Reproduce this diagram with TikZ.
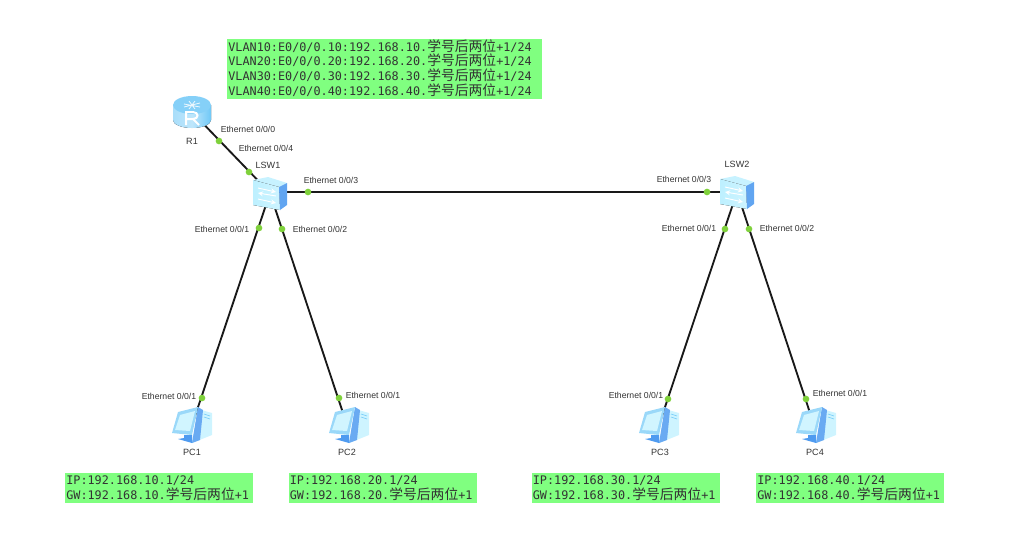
\documentclass[tikz,border=0pt]{standalone}
\usepackage{fontspec}
\setmainfont{Liberation Sans}
\setmonofont{DejaVu Sans Mono}
\newfontfamily\cjkf{Noto Sans CJK SC}[Scale=1.17]
\usetikzlibrary{calc}
\definecolor{boxgreen}{HTML}{80FF80}
\definecolor{portgreen}{HTML}{7FD13B}
\definecolor{lblgray}{HTML}{333333}
\definecolor{iconA}{HTML}{BDF0FF}
\definecolor{iconB}{HTML}{6FC8F7}
\definecolor{iconC}{HTML}{4F9BF0}
\newcommand{\xh}{{\cjkf 学号后两位}}
\tikzset{
 x=0.75pt,y=-0.75pt,
 link/.style={draw=black!90,line width=1.4pt},
 portdot/.style={circle,fill=portgreen,draw=none,inner sep=0pt,minimum size=5pt},
 portlabel/.style={font=\fontsize{6.5}{8}\selectfont,text=lblgray,inner sep=0pt},
 devlabel/.style={font=\fontsize{6.8}{8}\selectfont,text=lblgray,inner sep=0pt},
 notebox/.style={fill=boxgreen,draw=none,align=left,inner xsep=1pt,inner ysep=0pt,text=black!80,
   font=\ttfamily\fontsize{8.85}{11}\selectfont},
 devnode/.style={inner sep=0pt,minimum size=1pt,draw=none},
}
\newcommand{\routericon}[1]{%
 \begin{scope}[shift={(#1)}]
  \fill[left color=iconB!60!white,right color=iconB,middle color=iconB!45!white]
    (-19,-7) -- (-19,8) arc[x radius=19,y radius=8,start angle=180,end angle=0] -- (19,-7) -- cycle;
  \fill[iconB!85!white] (0,-7) ellipse[x radius=19,y radius=9];
  \draw[white,line width=.6pt,opacity=.85] (-8,-8)--(8,-5) (-8,-5)--(8,-9) (-3,-11)--(3,-3) (3,-11)--(-3,-3);
  \draw[white,line width=1.5pt] (-6,13) -- (-6,0) -- (1,0) .. controls (7,0) and (7,7) .. (1,7) -- (-6,7) (1,7) -- (7,13);
 \end{scope}}
\newcommand{\switchicon}[1]{%
 \begin{scope}[shift={(#1)}]
  \fill[iconA!85!white] (-17,-13) -- (-2,-16) -- (17,-10) -- (9,-6) -- cycle;
  \fill[left color=iconA,right color=iconA!75!white] (-17,-13) -- (9,-6) -- (10,17) -- (-17,12) -- cycle;
  \fill[iconC!90!white] (9,-6) -- (17,-10) -- (17,12) -- (10,17) -- cycle;
  \draw[white,line width=.7pt,->,>=stealth] (-12,-5) -- (6,-1);
  \draw[white,line width=.7pt,<-,>=stealth] (-12,0) -- (6,3);
  \draw[white,line width=.7pt,->,>=stealth] (-12,6) -- (6,10);
 \end{scope}}
\newcommand{\pcicon}[1]{%
 \begin{scope}[shift={(#1)}]
  \fill[iconA!75!white] (7,-19) -- (21,-15) -- (21,7) -- (1,15) -- cycle;
  \fill[iconC!85!white] (7,-21) -- (12,-18) -- (9,12) -- (1,15) -- cycle;
  \fill[iconB!70!white] (-13,-16) -- (7,-21) -- (1,7) -- (-19,5) -- cycle;
  \fill[iconA!70!white] (-11,-13) -- (4,-17) -- (-1,3) -- (-16,2) -- cycle;
  \fill[iconC] (-7,7) -- (1,7) -- (1,15) -- (-13,11) -- (-7,10) -- cycle;
  \draw[iconB,line width=.4pt] (13,-14) -- (19,-12) (13,-11) -- (19,-9);
 \end{scope}}
\begin{document}
\begin{tikzpicture}
\useasboundingbox (0,0) rectangle (1013,547);
% device anchors
\node[devnode] (r1) at (192,112) {};
\node[devnode] (s1) at (270,193) {};
\node[devnode] (s2) at (737,192) {};
\node[devnode] (p1) at (191,428) {};
\node[devnode] (p2) at (348,428) {};
\node[devnode] (p3) at (658,428) {};
\node[devnode] (p4) at (815,428) {};
% links
\draw[link] (r1) -- (s1);
\draw[link] (s1 |- s2) -- (s2);
\draw[link] (s1) -- (p1);
\draw[link] (s1) -- (p2);
\draw[link] (s2) -- (p3);
\draw[link] (s2) -- (p4);
% icons
\routericon{r1}
\switchicon{s1}
\switchicon{s2}
\pcicon{p1}
\pcicon{p2}
\pcicon{p3}
\pcicon{p4}
% port dots
\node[portdot] (d1) at (219,141) {};
\node[portdot] (d2) at (249,172) {};
\node[portdot] (d3) at (308,192) {};
\node[portdot] (d4) at (707,192) {};
\node[portdot] (d5) at (259,228) {};
\node[portdot] (d6) at (282,229) {};
\node[portdot] (d7) at (202,398) {};
\node[portdot] (d8) at (339,398) {};
\node[portdot] (d9) at (725,229) {};
\node[portdot] (d10) at (749,229) {};
\node[portdot] (d11) at (668,399) {};
\node[portdot] (d12) at (806,399) {};
% port labels
\node[portlabel] (l1) at (248,129) {Ethernet 0/0/0};
\node[portlabel] (l2) at (266,148) {Ethernet 0/0/4};
\node[portlabel] (l3) at (331,180) {Ethernet 0/0/3};
\node[portlabel] (l4) at (684,179) {Ethernet 0/0/3};
\node[portlabel] (l5) at (222,229) {Ethernet 0/0/1};
\node[portlabel] (l6) at (320,229) {Ethernet 0/0/2};
\node[portlabel] (l7) at (689,228) {Ethernet 0/0/1};
\node[portlabel] (l8) at (787,228) {Ethernet 0/0/2};
\node[portlabel] (l9) at (169,396) {Ethernet 0/0/1};
\node[portlabel] (l10) at (373,395) {Ethernet 0/0/1};
\node[portlabel] (l11) at (636,395) {Ethernet 0/0/1};
\node[portlabel] (l12) at (840,393) {Ethernet 0/0/1};
% device labels
\node[devlabel] (n1) at (192,141) {R1};
\node[devlabel] (n2) at (268,165) {LSW1};
\node[devlabel] (n3) at (737,164) {LSW2};
\node[devlabel] (n4) at (192,452) {PC1};
\node[devlabel] (n5) at (347,452) {PC2};
\node[devlabel] (n6) at (660,452) {PC3};
\node[devlabel] (n7) at (815,452) {PC4};
% note boxes
\path[fill=boxgreen] (227,39) rectangle (542,99);
\node[notebox,fill=none,text width=234.25pt] (b0) at (384.5,68) {%
VLAN10:E0/0/0.10:192.168.10.\xh+1/24\\
VLAN20:E0/0/0.20:192.168.20.\xh+1/24\\
VLAN30:E0/0/0.30:192.168.30.\xh+1/24\\
VLAN40:E0/0/0.40:192.168.40.\xh+1/24};
\node[notebox,text width=139pt,minimum height=22.5pt] (b1) at (159,488) {%
IP:192.168.10.1/24\\GW:192.168.10.\xh+1};
\node[notebox,text width=139pt,minimum height=22.5pt] (b2) at (382.5,488) {%
IP:192.168.20.1/24\\GW:192.168.20.\xh+1};
\node[notebox,text width=139pt,minimum height=22.5pt] (b3) at (625.5,488) {%
IP:192.168.30.1/24\\GW:192.168.30.\xh+1};
\node[notebox,text width=139pt,minimum height=22.5pt] (b4) at (850,488) {%
IP:192.168.40.1/24\\GW:192.168.40.\xh+1};
\end{tikzpicture}
\end{document}
